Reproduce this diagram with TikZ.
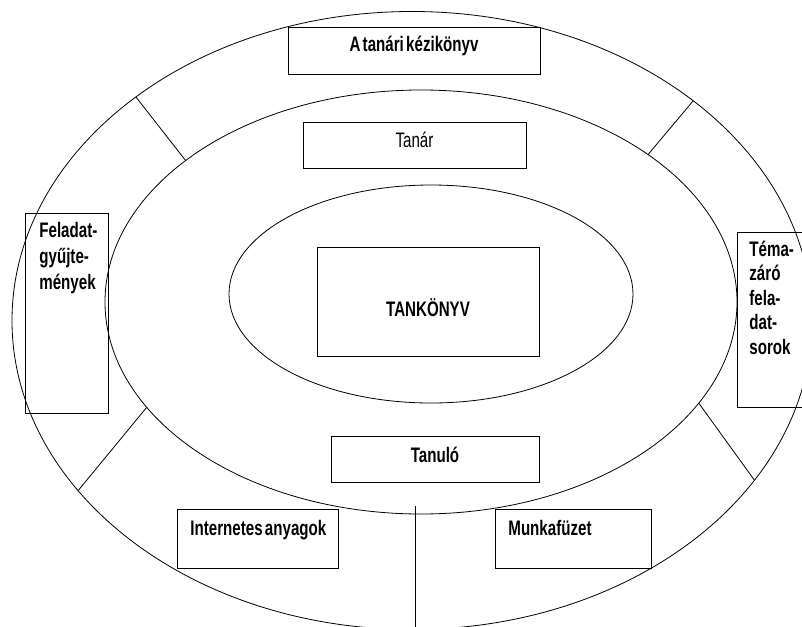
\documentclass[tikz,border=0pt]{standalone}
\usepackage{fontspec}
\setmainfont{Liberation Sans}[FakeStretch=0.72,WordSpace=0.55]
\usetikzlibrary{shapes.geometric}
\begin{document}
\begin{tikzpicture}[x=1pt,y=-1pt,line width=0.8pt,
  ell/.style={draw,ellipse,inner sep=0pt,outer sep=0pt},
  box/.style={draw,rectangle,inner sep=0pt,outer sep=0pt,anchor=north west},
  lbl/.style={inner sep=0pt,font=\fontsize{21}{26}\selectfont\bfseries},
  lblr/.style={inner sep=0pt,font=\fontsize{21}{26}\selectfont},
  lbls/.style={inner sep=0pt,font=\fontsize{21}{24.5}\selectfont\bfseries}]
\useasboundingbox (0,0) rectangle (802,626);
\clip (0,0) rectangle (802,626);
% ellipses
\node[ell,minimum width=800pt,minimum height=618pt] (outer) at (412,320.5) {};
\node[ell,minimum width=632pt,minimum height=424pt] (middle) at (421,302) {};
\node[ell,minimum width=404pt,minimum height=218pt] (inner) at (431,294) {};
% boxes
\node[box,minimum width=252pt,minimum height=47pt] (kezi) at (288,27) {};
\node[box,minimum width=223pt,minimum height=46pt] (tanar) at (303,122) {};
\node[box,minimum width=222pt,minimum height=109pt] (tankonyv) at (317,247) {};
\node[box,minimum width=208pt,minimum height=46pt] (tanulo) at (331,436) {};
\node[box,minimum width=161pt,minimum height=59pt] (internet) at (177,509) {};
\node[box,minimum width=156pt,minimum height=59pt] (munka) at (495,509) {};
\node[box,minimum width=83pt,minimum height=200pt] (feladat) at (25,213) {};
\node[box,minimum width=72pt,minimum height=175pt] (tema) at (737,232) {};
% texts
\node[lbl,anchor=base] (keziT) at (414,52) {A tanári kézikönyv};
\node[lblr,anchor=base] (tanarT) at (414.5,147) {Tanár};
\node[lbl,anchor=base] (tankonyvT) at (428,316) {TANKÖNYV};
\node[lbl,anchor=base] (tanuloT) at (435,462) {Tanuló};
\node[lbl,anchor=base west] (internetT) at (190,535) {Internetes anyagok};
\node[lbl,anchor=base west] (munkaT) at (508,535) {Munkafüzet};
\node[lbl,anchor=base west] (feladatT) at (39,237)
  {\begin{tabular}[t]{@{}l@{}}Feladat-\\gyűjte-\\mények\end{tabular}};
\node[lbls,anchor=base west] (temaT) at (749,256)
  {\begin{tabular}[t]{@{}l@{}}Téma-\\záró\\fela-\\dat-\\sorok\end{tabular}};
% dividers
\draw (outer.141.55) -- (middle.149.5);
\draw (outer.38.55) -- (middle.33.05);
\draw (outer.207.9) -- (middle.201.8);
\draw (outer.335.7) -- (middle.340.96);
\coordinate (vtop) at (415,506);
\draw (vtop) -- (vtop |- outer.south);
\end{tikzpicture}
\end{document}
